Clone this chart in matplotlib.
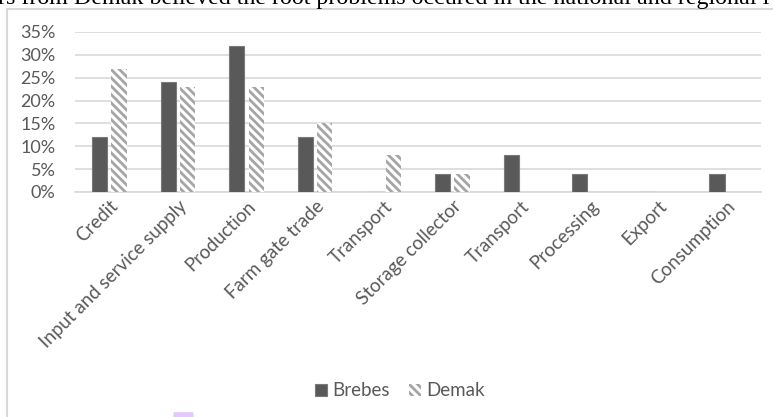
import numpy as np
import matplotlib
matplotlib.use('Agg')
import matplotlib.pyplot as plt
from matplotlib.patches import Rectangle, FancyBboxPatch, Patch

categories = ['Credit', 'Input and service supply', 'Production', 'Farm gate trade',
              'Transport', 'Storage collector', 'Transport', 'Processing', 'Export',
              'Consumption']
brebes = [12, 24, 32, 12, 0, 4, 8, 4, 0, 4]
demak = [27, 23, 23, 15, 8, 4, 0, 0, 0, 0]
yticks = [0, 5, 10, 15, 20, 25, 30, 35]
top_line = 'rs from Demak believed the root problems occured in the national and regional l'

W, H = 773, 417
plt.rcParams['font.family'] = ['Lato', 'DejaVu Sans']
plt.rcParams['hatch.linewidth'] = 2.0
stripes = '\\' * 4

fig = plt.figure(figsize=(W / 100, H / 100), dpi=100)

# cut-off line of document text above the chart
fig.text(-2 / W, 1 - 4 / H, top_line, family='Liberation Serif', fontsize=17.3,
         color='black', ha='left', va='baseline')

# chart frame
fig.patches.append(Rectangle((7 / W, -0.1), 1.2, 1 - 8.5 / H + 0.1, transform=fig.transFigure,
                             fill=False, edgecolor='#d9d9d9', linewidth=1.5))

ax = fig.add_axes([75 / W, 1 - 192 / H, (761 - 75) / W, (192 - 32) / H])
x = np.arange(len(categories))
bw = 0.22
off = 0.142
ax.bar(x - off, brebes, bw, color='#595959', edgecolor='#7a7a7a', linewidth=0.8, zorder=3)
ax.bar(x + off, demak, bw, color='white', edgecolor='#a5a5a5', hatch=stripes, linewidth=0,
       zorder=3)

ax.set_xlim(-0.5, len(categories) - 0.5)
ax.set_ylim(0, 35)
ax.set_yticks(yticks)
ax.set_yticklabels([f'{v}%' for v in yticks])
ax.yaxis.grid(True, color='#d9d9d9', linewidth=1.2, zorder=0)
ax.set_axisbelow(True)
for s in ['top', 'right', 'left']:
    ax.spines[s].set_visible(False)
ax.spines['bottom'].set_color('#d9d9d9')
ax.spines['bottom'].set_linewidth(1.2)
ax.tick_params(axis='y', length=0, pad=14, labelsize=13, labelcolor='#595959')
ax.tick_params(axis='x', length=0, pad=4, labelsize=13.5, labelcolor='#595959')
ax.set_xticks(x)
ax.set_xticklabels(categories, rotation=45, ha='right', rotation_mode='anchor')

handles = [Patch(facecolor='#595959', edgecolor='#7a7a7a', linewidth=0.8),
           Patch(facecolor='white', edgecolor='#a5a5a5', hatch=stripes, linewidth=0)]
fig.legend(handles, ['Brebes', 'Demak'], loc='center', bbox_to_anchor=(400 / W, 1 - 391 / H),
           ncol=2, frameon=False, fontsize=13.5, labelcolor='#595959', handlelength=0.65,
           handleheight=0.65, handletextpad=0.3, columnspacing=1.0)

# small purple mark at the bottom edge
fig.patches.append(FancyBboxPatch((175 / W, -4 / H), 17 / W, 8 / H,
                                  boxstyle='round,pad=0.002', transform=fig.transFigure,
                                  facecolor='#e2c8fb', edgecolor='none'))

fig.savefig('out.png', dpi=100)
